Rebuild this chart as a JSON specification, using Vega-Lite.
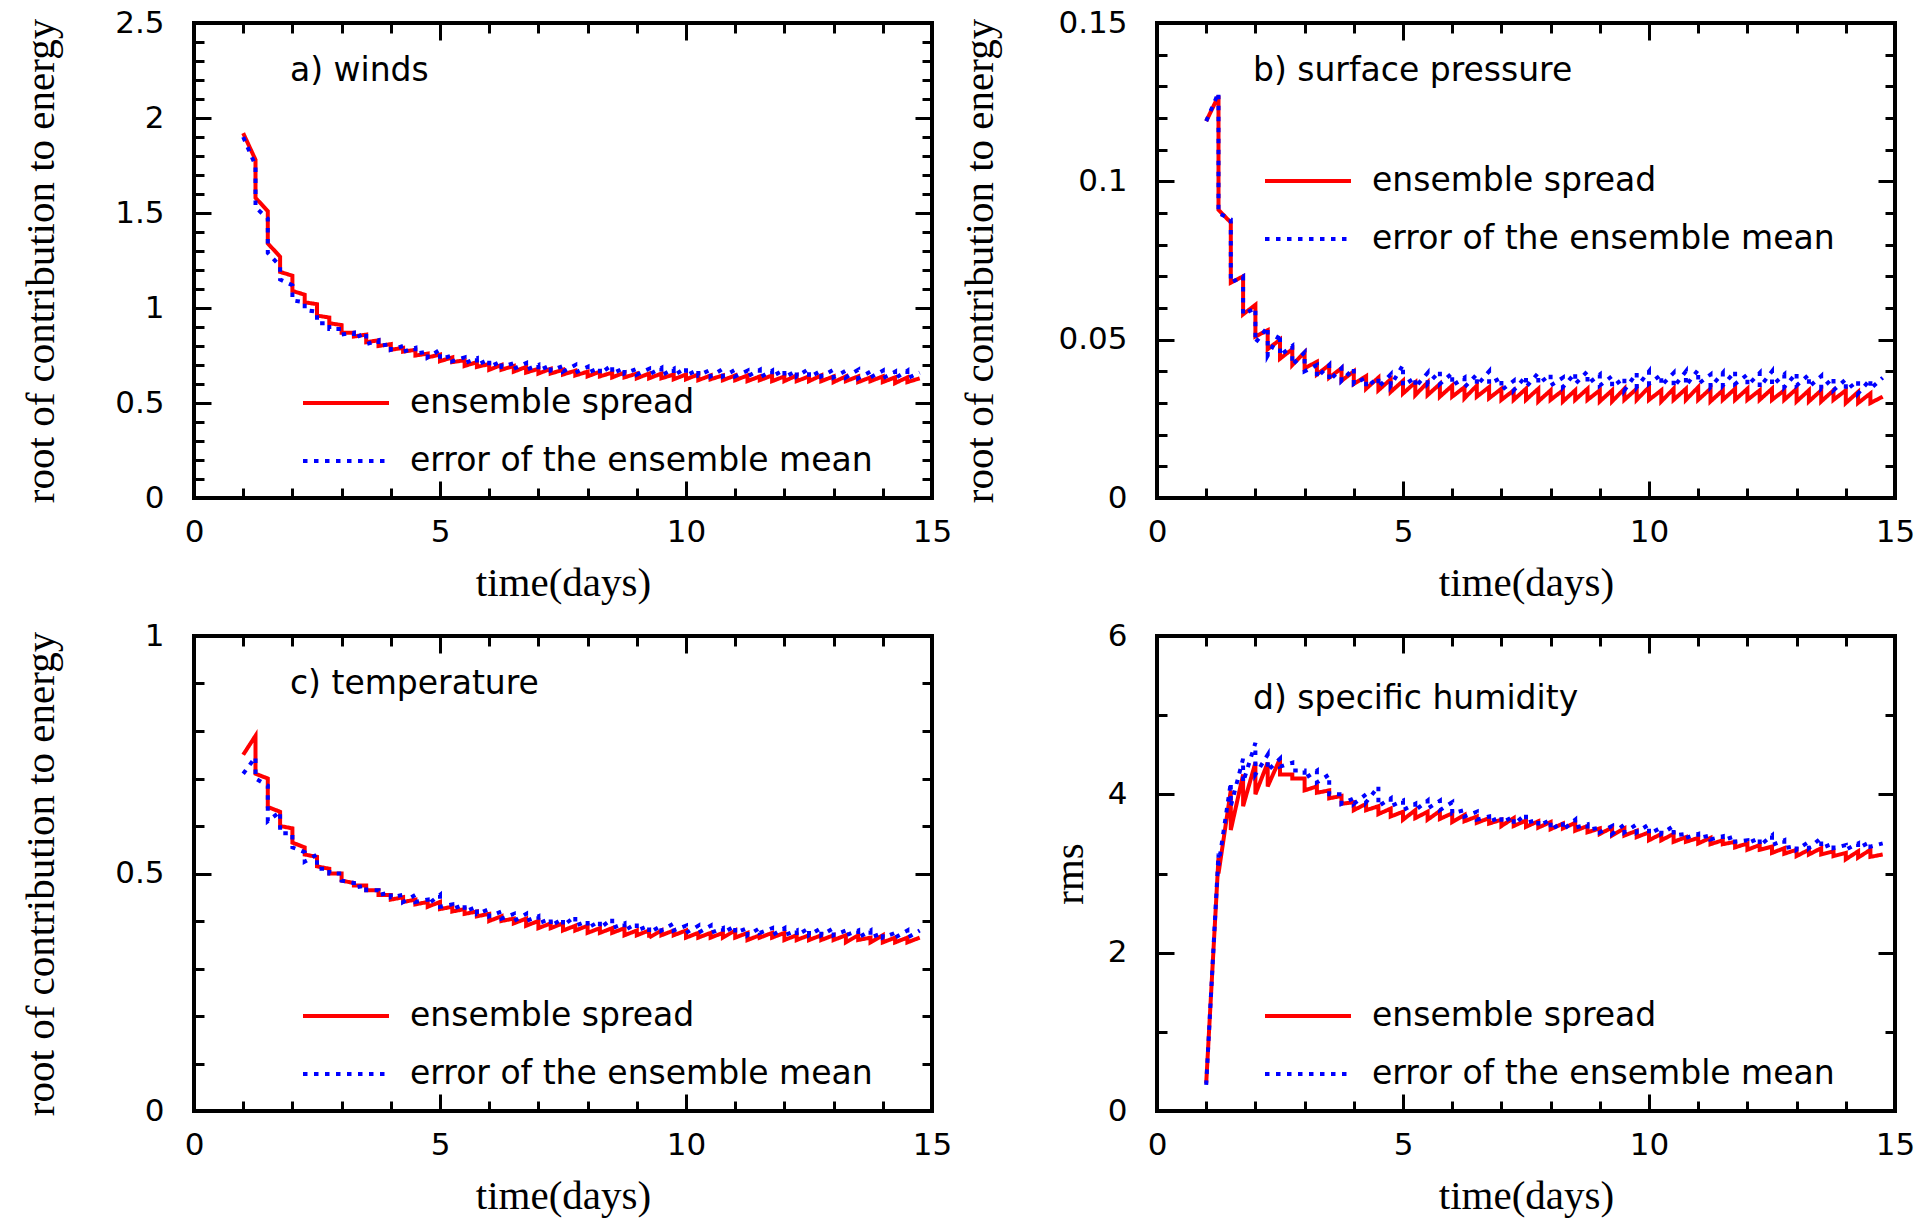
{
"$schema":"https://vega.github.io/schema/vega-lite/v6.json",
"background":"white",
"padding":{"left":18,"top":5,"right":5,"bottom":5},
"config":{
 "view":{"stroke":"black","strokeWidth":4},
 "axis":{"domain":false,"grid":false,"tickColor":"black","tickWidth":3,"labelColor":"black","labelFont":"DejaVu Sans","labelFontSize":31,"titleColor":"black","titleFont":"Liberation Serif","titleFontSize":41,"titleFontWeight":"normal","labelOverlap":false,"labelFlush":false}
},
"datasets":{
"a":[
{"t":1,"re":1.92,"rs":1.92,"be":1.90,"bs":1.90},
{"t":1.25,"re":1.78,"rs":1.58,"be":1.75,"bs":1.53},
{"t":1.5,"re":1.51,"rs":1.34,"be":1.47,"bs":1.29},
{"t":1.75,"re":1.27,"rs":1.19,"be":1.22,"bs":1.15},
{"t":2,"re":1.17,"rs":1.09,"be":1.12,"bs":1.04},
{"t":2.25,"re":1.07,"rs":1.03,"be":1.03,"bs":0.99},
{"t":2.5,"re":1.02,"rs":0.96,"be":0.98,"bs":0.92},
{"t":2.75,"re":0.95,"rs":0.92,"be":0.92,"bs":0.89},
{"t":3,"re":0.91,"rs":0.87,"be":0.89,"bs":0.86},
{"t":3.25,"re":0.87,"rs":0.85,"be":0.87,"bs":0.84},
{"t":3.5,"re":0.86,"rs":0.82,"be":0.87,"bs":0.81},
{"t":3.75,"re":0.83,"rs":0.80,"be":0.83,"bs":0.80},
{"t":4,"re":0.81,"rs":0.78,"be":0.81,"bs":0.78},
{"t":4.25,"re":0.79,"rs":0.77,"be":0.80,"bs":0.77},
{"t":4.5,"re":0.78,"rs":0.75,"be":0.79,"bs":0.76},
{"t":4.75,"re":0.76,"rs":0.74,"be":0.77,"bs":0.74},
{"t":5,"re":0.755,"rs":0.72,"be":0.78,"bs":0.73},
{"t":5.25,"re":0.74,"rs":0.715,"be":0.75,"bs":0.72},
{"t":5.5,"re":0.725,"rs":0.695,"be":0.74,"bs":0.71},
{"t":5.75,"re":0.715,"rs":0.69,"be":0.735,"bs":0.70},
{"t":6,"re":0.705,"rs":0.675,"be":0.73,"bs":0.69},
{"t":6.25,"re":0.70,"rs":0.675,"be":0.72,"bs":0.69},
{"t":6.5,"re":0.695,"rs":0.665,"be":0.71,"bs":0.68},
{"t":6.75,"re":0.69,"rs":0.66,"be":0.71,"bs":0.675},
{"t":7,"re":0.68,"rs":0.655,"be":0.70,"bs":0.67},
{"t":7.25,"re":0.68,"rs":0.655,"be":0.70,"bs":0.67},
{"t":7.5,"re":0.675,"rs":0.65,"be":0.695,"bs":0.665},
{"t":7.75,"re":0.67,"rs":0.645,"be":0.70,"bs":0.66},
{"t":8,"re":0.665,"rs":0.64,"be":0.69,"bs":0.66},
{"t":8.25,"re":0.665,"rs":0.64,"be":0.685,"bs":0.655},
{"t":8.5,"re":0.66,"rs":0.635,"be":0.70,"bs":0.655},
{"t":8.75,"re":0.66,"rs":0.635,"be":0.685,"bs":0.655},
{"t":9,"re":0.655,"rs":0.63,"be":0.68,"bs":0.65},
{"t":9.25,"re":0.655,"rs":0.63,"be":0.68,"bs":0.65},
{"t":9.5,"re":0.655,"rs":0.63,"be":0.685,"bs":0.645},
{"t":9.75,"re":0.65,"rs":0.625,"be":0.68,"bs":0.645},
{"t":10,"re":0.65,"rs":0.625,"be":0.685,"bs":0.645},
{"t":10.25,"re":0.65,"rs":0.62,"be":0.675,"bs":0.645},
{"t":10.5,"re":0.645,"rs":0.625,"be":0.675,"bs":0.64},
{"t":10.75,"re":0.645,"rs":0.62,"be":0.68,"bs":0.64},
{"t":11,"re":0.645,"rs":0.62,"be":0.675,"bs":0.64},
{"t":11.25,"re":0.645,"rs":0.615,"be":0.67,"bs":0.64},
{"t":11.5,"re":0.64,"rs":0.62,"be":0.675,"bs":0.635},
{"t":11.75,"re":0.645,"rs":0.615,"be":0.67,"bs":0.64},
{"t":12,"re":0.64,"rs":0.615,"be":0.675,"bs":0.635},
{"t":12.25,"re":0.645,"rs":0.615,"be":0.67,"bs":0.64},
{"t":12.5,"re":0.64,"rs":0.615,"be":0.68,"bs":0.635},
{"t":12.75,"re":0.645,"rs":0.615,"be":0.67,"bs":0.64},
{"t":13,"re":0.64,"rs":0.61,"be":0.675,"bs":0.635},
{"t":13.25,"re":0.64,"rs":0.615,"be":0.67,"bs":0.635},
{"t":13.5,"re":0.64,"rs":0.61,"be":0.675,"bs":0.63},
{"t":13.75,"re":0.635,"rs":0.615,"be":0.665,"bs":0.635},
{"t":14,"re":0.64,"rs":0.61,"be":0.67,"bs":0.63},
{"t":14.25,"re":0.635,"rs":0.605,"be":0.665,"bs":0.63},
{"t":14.5,"re":0.635,"rs":0.61,"be":0.67,"bs":0.63},
{"t":14.75,"re":0.63,"rs":0.63,"be":0.66,"bs":0.66}
],
"b":[
{"t":1,"re":0.119,"rs":0.119,"be":0.119,"bs":0.119},
{"t":1.25,"re":0.127,"rs":0.091,"be":0.128,"bs":0.090},
{"t":1.5,"re":0.087,"rs":0.068,"be":0.088,"bs":0.068},
{"t":1.75,"re":0.070,"rs":0.058,"be":0.070,"bs":0.058},
{"t":2,"re":0.061,"rs":0.051,"be":0.060,"bs":0.049},
{"t":2.25,"re":0.053,"rs":0.047,"be":0.054,"bs":0.045},
{"t":2.5,"re":0.050,"rs":0.044,"be":0.052,"bs":0.045},
{"t":2.75,"re":0.047,"rs":0.042,"be":0.048,"bs":0.042},
{"t":3,"re":0.046,"rs":0.041,"be":0.046,"bs":0.040},
{"t":3.25,"re":0.043,"rs":0.039,"be":0.042,"bs":0.038},
{"t":3.5,"re":0.042,"rs":0.038,"be":0.042,"bs":0.037},
{"t":3.75,"re":0.041,"rs":0.037,"be":0.041,"bs":0.037},
{"t":4,"re":0.040,"rs":0.036,"be":0.041,"bs":0.036},
{"t":4.25,"re":0.0385,"rs":0.0345,"be":0.038,"bs":0.035},
{"t":4.5,"re":0.038,"rs":0.034,"be":0.038,"bs":0.035},
{"t":4.75,"re":0.0375,"rs":0.0335,"be":0.039,"bs":0.0355},
{"t":5,"re":0.037,"rs":0.033,"be":0.042,"bs":0.0355},
{"t":5.25,"re":0.0365,"rs":0.0325,"be":0.038,"bs":0.035},
{"t":5.5,"re":0.0365,"rs":0.0325,"be":0.0395,"bs":0.036},
{"t":5.75,"re":0.036,"rs":0.032,"be":0.040,"bs":0.036},
{"t":6,"re":0.0355,"rs":0.032,"be":0.0395,"bs":0.0355},
{"t":6.25,"re":0.035,"rs":0.0315,"be":0.038,"bs":0.035},
{"t":6.5,"re":0.0355,"rs":0.032,"be":0.039,"bs":0.0355},
{"t":6.75,"re":0.035,"rs":0.0315,"be":0.040,"bs":0.036},
{"t":7,"re":0.0345,"rs":0.031,"be":0.038,"bs":0.034},
{"t":7.25,"re":0.034,"rs":0.031,"be":0.037,"bs":0.034},
{"t":7.5,"re":0.0345,"rs":0.031,"be":0.0385,"bs":0.035},
{"t":7.75,"re":0.0345,"rs":0.0305,"be":0.0395,"bs":0.036},
{"t":8,"re":0.034,"rs":0.031,"be":0.039,"bs":0.0355},
{"t":8.25,"re":0.034,"rs":0.0305,"be":0.038,"bs":0.035},
{"t":8.5,"re":0.034,"rs":0.031,"be":0.0395,"bs":0.036},
{"t":8.75,"re":0.0345,"rs":0.031,"be":0.040,"bs":0.036},
{"t":9,"re":0.034,"rs":0.0305,"be":0.039,"bs":0.0355},
{"t":9.25,"re":0.034,"rs":0.0305,"be":0.0385,"bs":0.035},
{"t":9.5,"re":0.0345,"rs":0.031,"be":0.038,"bs":0.034},
{"t":9.75,"re":0.0345,"rs":0.031,"be":0.0395,"bs":0.035},
{"t":10,"re":0.035,"rs":0.031,"be":0.040,"bs":0.036},
{"t":10.25,"re":0.034,"rs":0.0305,"be":0.039,"bs":0.0355},
{"t":10.5,"re":0.0345,"rs":0.031,"be":0.0395,"bs":0.035},
{"t":10.75,"re":0.0345,"rs":0.031,"be":0.040,"bs":0.0355},
{"t":11,"re":0.035,"rs":0.031,"be":0.0405,"bs":0.036},
{"t":11.25,"re":0.0345,"rs":0.0305,"be":0.039,"bs":0.035},
{"t":11.5,"re":0.034,"rs":0.031,"be":0.0395,"bs":0.0355},
{"t":11.75,"re":0.0345,"rs":0.031,"be":0.040,"bs":0.036},
{"t":12,"re":0.0345,"rs":0.031,"be":0.039,"bs":0.0355},
{"t":12.25,"re":0.034,"rs":0.031,"be":0.0395,"bs":0.035},
{"t":12.5,"re":0.0345,"rs":0.031,"be":0.040,"bs":0.0355},
{"t":12.75,"re":0.034,"rs":0.031,"be":0.039,"bs":0.035},
{"t":13,"re":0.0345,"rs":0.0305,"be":0.0395,"bs":0.0355},
{"t":13.25,"re":0.034,"rs":0.0305,"be":0.039,"bs":0.035},
{"t":13.5,"re":0.034,"rs":0.0305,"be":0.0385,"bs":0.0345},
{"t":13.75,"re":0.034,"rs":0.031,"be":0.038,"bs":0.034},
{"t":14,"re":0.034,"rs":0.030,"be":0.0375,"bs":0.034},
{"t":14.25,"re":0.0335,"rs":0.030,"be":0.037,"bs":0.033},
{"t":14.5,"re":0.033,"rs":0.030,"be":0.0375,"bs":0.0345},
{"t":14.75,"re":0.032,"rs":0.032,"be":0.038,"bs":0.038}
],
"c":[
{"t":1,"re":0.75,"rs":0.75,"be":0.71,"bs":0.71},
{"t":1.25,"re":0.79,"rs":0.71,"be":0.745,"bs":0.70},
{"t":1.5,"re":0.70,"rs":0.64,"be":0.685,"bs":0.61},
{"t":1.75,"re":0.63,"rs":0.60,"be":0.63,"bs":0.585},
{"t":2,"re":0.595,"rs":0.565,"be":0.585,"bs":0.555},
{"t":2.25,"re":0.555,"rs":0.54,"be":0.545,"bs":0.525},
{"t":2.5,"re":0.535,"rs":0.515,"be":0.54,"bs":0.51},
{"t":2.75,"re":0.51,"rs":0.50,"be":0.51,"bs":0.50},
{"t":3,"re":0.50,"rs":0.485,"be":0.50,"bs":0.485},
{"t":3.25,"re":0.48,"rs":0.475,"be":0.48,"bs":0.47},
{"t":3.5,"re":0.475,"rs":0.465,"be":0.475,"bs":0.465},
{"t":3.75,"re":0.465,"rs":0.455,"be":0.465,"bs":0.455},
{"t":4,"re":0.455,"rs":0.445,"be":0.46,"bs":0.45},
{"t":4.25,"re":0.45,"rs":0.44,"be":0.455,"bs":0.44},
{"t":4.5,"re":0.445,"rs":0.435,"be":0.455,"bs":0.44},
{"t":4.75,"re":0.44,"rs":0.43,"be":0.445,"bs":0.435},
{"t":5,"re":0.44,"rs":0.425,"be":0.455,"bs":0.43},
{"t":5.25,"re":0.43,"rs":0.42,"be":0.435,"bs":0.425},
{"t":5.5,"re":0.425,"rs":0.415,"be":0.435,"bs":0.42},
{"t":5.75,"re":0.42,"rs":0.41,"be":0.43,"bs":0.415},
{"t":6,"re":0.415,"rs":0.40,"be":0.425,"bs":0.41},
{"t":6.25,"re":0.41,"rs":0.40,"be":0.42,"bs":0.405},
{"t":6.5,"re":0.405,"rs":0.395,"be":0.415,"bs":0.40},
{"t":6.75,"re":0.405,"rs":0.39,"be":0.415,"bs":0.40},
{"t":7,"re":0.40,"rs":0.385,"be":0.41,"bs":0.395},
{"t":7.25,"re":0.395,"rs":0.385,"be":0.405,"bs":0.39},
{"t":7.5,"re":0.395,"rs":0.38,"be":0.405,"bs":0.39},
{"t":7.75,"re":0.39,"rs":0.38,"be":0.41,"bs":0.39},
{"t":8,"re":0.39,"rs":0.375,"be":0.40,"bs":0.385},
{"t":8.25,"re":0.385,"rs":0.375,"be":0.40,"bs":0.385},
{"t":8.5,"re":0.385,"rs":0.375,"be":0.405,"bs":0.385},
{"t":8.75,"re":0.385,"rs":0.37,"be":0.395,"bs":0.38},
{"t":9,"re":0.38,"rs":0.37,"be":0.395,"bs":0.38},
{"t":9.25,"re":0.38,"rs":0.365,"be":0.39,"bs":0.375},
{"t":9.5,"re":0.38,"rs":0.37,"be":0.39,"bs":0.38},
{"t":9.75,"re":0.38,"rs":0.37,"be":0.395,"bs":0.38},
{"t":10,"re":0.38,"rs":0.365,"be":0.39,"bs":0.375},
{"t":10.25,"re":0.375,"rs":0.365,"be":0.39,"bs":0.375},
{"t":10.5,"re":0.375,"rs":0.365,"be":0.39,"bs":0.375},
{"t":10.75,"re":0.375,"rs":0.365,"be":0.385,"bs":0.375},
{"t":11,"re":0.38,"rs":0.365,"be":0.39,"bs":0.375},
{"t":11.25,"re":0.375,"rs":0.36,"be":0.385,"bs":0.37},
{"t":11.5,"re":0.37,"rs":0.365,"be":0.385,"bs":0.375},
{"t":11.75,"re":0.375,"rs":0.365,"be":0.385,"bs":0.37},
{"t":12,"re":0.375,"rs":0.36,"be":0.385,"bs":0.37},
{"t":12.25,"re":0.37,"rs":0.36,"be":0.38,"bs":0.37},
{"t":12.5,"re":0.37,"rs":0.36,"be":0.385,"bs":0.37},
{"t":12.75,"re":0.37,"rs":0.36,"be":0.385,"bs":0.37},
{"t":13,"re":0.37,"rs":0.36,"be":0.385,"bs":0.37},
{"t":13.25,"re":0.37,"rs":0.355,"be":0.38,"bs":0.37},
{"t":13.5,"re":0.37,"rs":0.36,"be":0.38,"bs":0.365},
{"t":13.75,"re":0.365,"rs":0.355,"be":0.38,"bs":0.365},
{"t":14,"re":0.37,"rs":0.355,"be":0.375,"bs":0.365},
{"t":14.25,"re":0.365,"rs":0.355,"be":0.375,"bs":0.365},
{"t":14.5,"re":0.365,"rs":0.355,"be":0.38,"bs":0.365},
{"t":14.75,"re":0.365,"rs":0.365,"be":0.38,"bs":0.38}
],
"d":[
{"t":1,"re":0.35,"rs":0.35,"be":0.33,"bs":0.33},
{"t":1.25,"re":3.2,"rs":3.0,"be":3.25,"bs":3.1},
{"t":1.5,"re":4.05,"rs":3.55,"be":4.15,"bs":3.85},
{"t":1.75,"re":4.25,"rs":3.85,"be":4.45,"bs":4.15},
{"t":2,"re":4.4,"rs":4.0,"be":4.65,"bs":4.25},
{"t":2.25,"re":4.4,"rs":4.1,"be":4.5,"bs":4.3},
{"t":2.5,"re":4.45,"rs":4.25,"be":4.45,"bs":4.35},
{"t":2.75,"re":4.25,"rs":4.2,"be":4.4,"bs":4.3},
{"t":3,"re":4.2,"rs":4.05,"be":4.3,"bs":4.2},
{"t":3.25,"re":4.1,"rs":4.02,"be":4.3,"bs":4.15},
{"t":3.5,"re":4.05,"rs":3.95,"be":4.25,"bs":4.0},
{"t":3.75,"re":3.98,"rs":3.88,"be":4.0,"bs":3.88},
{"t":4,"re":3.9,"rs":3.8,"be":3.95,"bs":3.88},
{"t":4.25,"re":3.88,"rs":3.8,"be":4.0,"bs":3.9},
{"t":4.5,"re":3.85,"rs":3.75,"be":4.1,"bs":3.85},
{"t":4.75,"re":3.82,"rs":3.72,"be":3.95,"bs":3.85},
{"t":5,"re":3.78,"rs":3.68,"be":3.92,"bs":3.8},
{"t":5.25,"re":3.8,"rs":3.7,"be":3.88,"bs":3.8},
{"t":5.5,"re":3.78,"rs":3.68,"be":3.92,"bs":3.82},
{"t":5.75,"re":3.79,"rs":3.69,"be":3.92,"bs":3.8},
{"t":6,"re":3.76,"rs":3.65,"be":3.9,"bs":3.76},
{"t":6.25,"re":3.74,"rs":3.66,"be":3.8,"bs":3.72},
{"t":6.5,"re":3.72,"rs":3.64,"be":3.78,"bs":3.68},
{"t":6.75,"re":3.7,"rs":3.63,"be":3.72,"bs":3.65},
{"t":7,"re":3.68,"rs":3.6,"be":3.72,"bs":3.64},
{"t":7.25,"re":3.7,"rs":3.6,"be":3.72,"bs":3.62},
{"t":7.5,"re":3.67,"rs":3.59,"be":3.75,"bs":3.64},
{"t":7.75,"re":3.66,"rs":3.58,"be":3.68,"bs":3.6},
{"t":8,"re":3.65,"rs":3.56,"be":3.68,"bs":3.55},
{"t":8.25,"re":3.63,"rs":3.57,"be":3.65,"bs":3.55},
{"t":8.5,"re":3.64,"rs":3.54,"be":3.68,"bs":3.58},
{"t":8.75,"re":3.6,"rs":3.52,"be":3.62,"bs":3.55},
{"t":9,"re":3.57,"rs":3.5,"be":3.58,"bs":3.52},
{"t":9.25,"re":3.58,"rs":3.48,"be":3.6,"bs":3.5},
{"t":9.5,"re":3.57,"rs":3.48,"be":3.62,"bs":3.52},
{"t":9.75,"re":3.54,"rs":3.46,"be":3.62,"bs":3.52},
{"t":10,"re":3.52,"rs":3.42,"be":3.62,"bs":3.5},
{"t":10.25,"re":3.5,"rs":3.42,"be":3.58,"bs":3.5},
{"t":10.5,"re":3.5,"rs":3.4,"be":3.6,"bs":3.48},
{"t":10.75,"re":3.46,"rs":3.4,"be":3.5,"bs":3.45},
{"t":11,"re":3.45,"rs":3.38,"be":3.5,"bs":3.45},
{"t":11.25,"re":3.45,"rs":3.37,"be":3.48,"bs":3.43},
{"t":11.5,"re":3.42,"rs":3.37,"be":3.47,"bs":3.42},
{"t":11.75,"re":3.4,"rs":3.33,"be":3.47,"bs":3.4},
{"t":12,"re":3.38,"rs":3.3,"be":3.42,"bs":3.38},
{"t":12.25,"re":3.36,"rs":3.3,"be":3.45,"bs":3.35},
{"t":12.5,"re":3.34,"rs":3.26,"be":3.48,"bs":3.36},
{"t":12.75,"re":3.32,"rs":3.25,"be":3.42,"bs":3.32},
{"t":13,"re":3.3,"rs":3.22,"be":3.35,"bs":3.3},
{"t":13.25,"re":3.3,"rs":3.24,"be":3.4,"bs":3.32},
{"t":13.5,"re":3.32,"rs":3.24,"be":3.45,"bs":3.32},
{"t":13.75,"re":3.28,"rs":3.22,"be":3.38,"bs":3.32},
{"t":14,"re":3.26,"rs":3.18,"be":3.36,"bs":3.3},
{"t":14.25,"re":3.28,"rs":3.2,"be":3.38,"bs":3.32},
{"t":14.5,"re":3.3,"rs":3.21,"be":3.4,"bs":3.34},
{"t":14.75,"re":3.24,"rs":3.24,"be":3.38,"bs":3.38}
]
},
"columns":2,
"bounds":"flush",
"spacing":{"column":225,"row":138},
"resolve":{"scale":{"color":"independent","strokeDash":"independent"},"legend":{"color":"independent","strokeDash":"independent"}},
"concat":[
{
 "width":738,"height":475,
 "data":{"name":"a"},
 "layer":[
  {"transform":[{"fold":["re","rs"],"as":["k","v"]}],
   "mark":{"type":"line","strokeWidth":4},
   "encoding":{
    "x":{"field":"t","type":"quantitative","scale":{"domain":[0,15],"nice":false},"axis":{"orient":"bottom","values":[0,1,2,3,4,5,6,7,8,9,10,11,12,13,14,15],"labelExpr":"datum.value % 5 === 0 ? datum.label : ''","tickSize":{"condition":{"test":"datum.value % 5 === 0","value":-17},"value":-10},"labelPadding":36,"title":"time(days)","titlePadding":9}},
    "y":{"field":"v","type":"quantitative","scale":{"domain":[0,2.5],"nice":false},"axis":{"orient":"left","values":[0,0.1,0.2,0.3,0.4,0.5,0.6,0.7,0.8,0.9,1,1.1,1.2,1.3,1.4,1.5,1.6,1.7,1.8,1.9,2,2.1,2.2,2.3,2.4,2.5],"labelExpr":"indexof([0,0.5,1,1.5,2,2.5], datum.value) >= 0 ? format(datum.value, '~g') : ''","tickSize":{"condition":{"test":"indexof([0,0.5,1,1.5,2,2.5], datum.value) >= 0","value":-17},"value":-10},"labelPadding":47,"title":"root of contribution to energy","titlePadding":52}},
    "order":[{"field":"t","type":"quantitative"},{"field":"k","type":"ordinal"}],
    "color":{"datum":"ensemble spread","type":"nominal","scale":{"domain":["ensemble spread","error of the ensemble mean"],"range":["#ff0000","#0000ff"]},"legend":{"orient":"none","legendX":107,"legendY":367,"title":null,"symbolType":"stroke","symbolSize":7396,"symbolStrokeWidth":4,"clipHeight":26,"rowPadding":25,"labelOffset":19,"labelFontSize":33,"labelFont":"DejaVu Sans","labelColor":"black","padding":0,"labelLimit":900}},
    "strokeDash":{"datum":"ensemble spread","type":"nominal","scale":{"domain":["ensemble spread","error of the ensemble mean"],"range":[[1,0],[4.5,6.5]]},"legend":{"orient":"none","legendX":107,"legendY":367,"title":null,"symbolType":"stroke","symbolSize":7396,"symbolStrokeWidth":4,"clipHeight":26,"rowPadding":25,"labelOffset":19,"labelFontSize":33,"labelFont":"DejaVu Sans","labelColor":"black","padding":0,"labelLimit":900}}
   }},
  {"transform":[{"fold":["be","bs"],"as":["k","v"]}],
   "mark":{"type":"line","strokeWidth":4},
   "encoding":{
    "x":{"field":"t","type":"quantitative","axis":{"orient":"top","values":[0,1,2,3,4,5,6,7,8,9,10,11,12,13,14,15],"labels":false,"title":null,"tickSize":{"condition":{"test":"datum.value % 5 === 0","value":-17},"value":-10}}},
    "y":{"field":"v","type":"quantitative","axis":{"orient":"right","values":[0,0.1,0.2,0.3,0.4,0.5,0.6,0.7,0.8,0.9,1,1.1,1.2,1.3,1.4,1.5,1.6,1.7,1.8,1.9,2,2.1,2.2,2.3,2.4,2.5],"labels":false,"title":null,"tickSize":{"condition":{"test":"indexof([0,0.5,1,1.5,2,2.5], datum.value) >= 0","value":-17},"value":-10}}},
    "order":[{"field":"t","type":"quantitative"},{"field":"k","type":"ordinal"}],
    "color":{"datum":"error of the ensemble mean","type":"nominal","legend":{"orient":"none","legendX":107,"legendY":367,"title":null,"symbolType":"stroke","symbolSize":7396,"symbolStrokeWidth":4,"clipHeight":26,"rowPadding":25,"labelOffset":19,"labelFontSize":33,"labelFont":"DejaVu Sans","labelColor":"black","padding":0,"labelLimit":900}},
    "strokeDash":{"datum":"error of the ensemble mean","type":"nominal","legend":{"orient":"none","legendX":107,"legendY":367,"title":null,"symbolType":"stroke","symbolSize":7396,"symbolStrokeWidth":4,"clipHeight":26,"rowPadding":25,"labelOffset":19,"labelFontSize":33,"labelFont":"DejaVu Sans","labelColor":"black","padding":0,"labelLimit":900}}
   }},
  {"data":{"values":[{"t":1.95,"v":2.25,"label":"a) winds"}]},
   "mark":{"type":"text","align":"left","baseline":"middle","fontSize":33,"font":"DejaVu Sans","color":"black"},
   "encoding":{"x":{"field":"t","type":"quantitative","axis":null},"y":{"field":"v","type":"quantitative","axis":null},"text":{"field":"label"}}}
 ],
 "resolve":{"axis":{"x":"independent","y":"independent"}}
},
{
 "width":738,"height":475,
 "data":{"name":"b"},
 "layer":[
  {"transform":[{"fold":["re","rs"],"as":["k","v"]}],
   "mark":{"type":"line","strokeWidth":4},
   "encoding":{
    "x":{"field":"t","type":"quantitative","scale":{"domain":[0,15],"nice":false},"axis":{"orient":"bottom","values":[0,1,2,3,4,5,6,7,8,9,10,11,12,13,14,15],"labelExpr":"datum.value % 5 === 0 ? datum.label : ''","tickSize":{"condition":{"test":"datum.value % 5 === 0","value":-17},"value":-10},"labelPadding":36,"title":"time(days)","titlePadding":9}},
    "y":{"field":"v","type":"quantitative","scale":{"domain":[0,0.15],"nice":false},"axis":{"orient":"left","values":[0,0.01,0.02,0.03,0.04,0.05,0.06,0.07,0.08,0.09,0.1,0.11,0.12,0.13,0.14,0.15],"labelExpr":"indexof([0,0.05,0.1,0.15], datum.value) >= 0 ? format(datum.value, '~g') : ''","tickSize":{"condition":{"test":"indexof([0,0.05,0.1,0.15], datum.value) >= 0","value":-17},"value":-10},"labelPadding":47,"title":"root of contribution to energy","titlePadding":56}},
    "order":[{"field":"t","type":"quantitative"},{"field":"k","type":"ordinal"}],
    "color":{"datum":"ensemble spread","type":"nominal","scale":{"domain":["ensemble spread","error of the ensemble mean"],"range":["#ff0000","#0000ff"]},"legend":{"orient":"none","legendX":106,"legendY":145,"title":null,"symbolType":"stroke","symbolSize":7396,"symbolStrokeWidth":4,"clipHeight":26,"rowPadding":25,"labelOffset":19,"labelFontSize":33,"labelFont":"DejaVu Sans","labelColor":"black","padding":0,"labelLimit":900}},
    "strokeDash":{"datum":"ensemble spread","type":"nominal","scale":{"domain":["ensemble spread","error of the ensemble mean"],"range":[[1,0],[4.5,6.5]]},"legend":{"orient":"none","legendX":106,"legendY":145,"title":null,"symbolType":"stroke","symbolSize":7396,"symbolStrokeWidth":4,"clipHeight":26,"rowPadding":25,"labelOffset":19,"labelFontSize":33,"labelFont":"DejaVu Sans","labelColor":"black","padding":0,"labelLimit":900}}
   }},
  {"transform":[{"fold":["be","bs"],"as":["k","v"]}],
   "mark":{"type":"line","strokeWidth":4},
   "encoding":{
    "x":{"field":"t","type":"quantitative","axis":{"orient":"top","values":[0,1,2,3,4,5,6,7,8,9,10,11,12,13,14,15],"labels":false,"title":null,"tickSize":{"condition":{"test":"datum.value % 5 === 0","value":-17},"value":-10}}},
    "y":{"field":"v","type":"quantitative","axis":{"orient":"right","values":[0,0.01,0.02,0.03,0.04,0.05,0.06,0.07,0.08,0.09,0.1,0.11,0.12,0.13,0.14,0.15],"labels":false,"title":null,"tickSize":{"condition":{"test":"indexof([0,0.05,0.1,0.15], datum.value) >= 0","value":-17},"value":-10}}},
    "order":[{"field":"t","type":"quantitative"},{"field":"k","type":"ordinal"}],
    "color":{"datum":"error of the ensemble mean","type":"nominal","legend":{"orient":"none","legendX":106,"legendY":145,"title":null,"symbolType":"stroke","symbolSize":7396,"symbolStrokeWidth":4,"clipHeight":26,"rowPadding":25,"labelOffset":19,"labelFontSize":33,"labelFont":"DejaVu Sans","labelColor":"black","padding":0,"labelLimit":900}},
    "strokeDash":{"datum":"error of the ensemble mean","type":"nominal","legend":{"orient":"none","legendX":106,"legendY":145,"title":null,"symbolType":"stroke","symbolSize":7396,"symbolStrokeWidth":4,"clipHeight":26,"rowPadding":25,"labelOffset":19,"labelFontSize":33,"labelFont":"DejaVu Sans","labelColor":"black","padding":0,"labelLimit":900}}
   }},
  {"data":{"values":[{"t":1.95,"v":0.135,"label":"b) surface pressure"}]},
   "mark":{"type":"text","align":"left","baseline":"middle","fontSize":33,"font":"DejaVu Sans","color":"black"},
   "encoding":{"x":{"field":"t","type":"quantitative","axis":null},"y":{"field":"v","type":"quantitative","axis":null},"text":{"field":"label"}}}
 ],
 "resolve":{"axis":{"x":"independent","y":"independent"}}
},
{
 "width":738,"height":475,
 "data":{"name":"c"},
 "layer":[
  {"transform":[{"fold":["re","rs"],"as":["k","v"]}],
   "mark":{"type":"line","strokeWidth":4},
   "encoding":{
    "x":{"field":"t","type":"quantitative","scale":{"domain":[0,15],"nice":false},"axis":{"orient":"bottom","values":[0,1,2,3,4,5,6,7,8,9,10,11,12,13,14,15],"labelExpr":"datum.value % 5 === 0 ? datum.label : ''","tickSize":{"condition":{"test":"datum.value % 5 === 0","value":-17},"value":-10},"labelPadding":36,"title":"time(days)","titlePadding":9}},
    "y":{"field":"v","type":"quantitative","scale":{"domain":[0,1],"nice":false},"axis":{"orient":"left","values":[0,0.1,0.2,0.3,0.4,0.5,0.6,0.7,0.8,0.9,1],"labelExpr":"indexof([0,0.5,1], datum.value) >= 0 ? format(datum.value, '~g') : ''","tickSize":{"condition":{"test":"indexof([0,0.5,1], datum.value) >= 0","value":-17},"value":-10},"labelPadding":47,"title":"root of contribution to energy","titlePadding":52}},
    "order":[{"field":"t","type":"quantitative"},{"field":"k","type":"ordinal"}],
    "color":{"datum":"ensemble spread","type":"nominal","scale":{"domain":["ensemble spread","error of the ensemble mean"],"range":["#ff0000","#0000ff"]},"legend":{"orient":"none","legendX":107,"legendY":367,"title":null,"symbolType":"stroke","symbolSize":7396,"symbolStrokeWidth":4,"clipHeight":26,"rowPadding":25,"labelOffset":19,"labelFontSize":33,"labelFont":"DejaVu Sans","labelColor":"black","padding":0,"labelLimit":900}},
    "strokeDash":{"datum":"ensemble spread","type":"nominal","scale":{"domain":["ensemble spread","error of the ensemble mean"],"range":[[1,0],[4.5,6.5]]},"legend":{"orient":"none","legendX":107,"legendY":367,"title":null,"symbolType":"stroke","symbolSize":7396,"symbolStrokeWidth":4,"clipHeight":26,"rowPadding":25,"labelOffset":19,"labelFontSize":33,"labelFont":"DejaVu Sans","labelColor":"black","padding":0,"labelLimit":900}}
   }},
  {"transform":[{"fold":["be","bs"],"as":["k","v"]}],
   "mark":{"type":"line","strokeWidth":4},
   "encoding":{
    "x":{"field":"t","type":"quantitative","axis":{"orient":"top","values":[0,1,2,3,4,5,6,7,8,9,10,11,12,13,14,15],"labels":false,"title":null,"tickSize":{"condition":{"test":"datum.value % 5 === 0","value":-17},"value":-10}}},
    "y":{"field":"v","type":"quantitative","axis":{"orient":"right","values":[0,0.1,0.2,0.3,0.4,0.5,0.6,0.7,0.8,0.9,1],"labels":false,"title":null,"tickSize":{"condition":{"test":"indexof([0,0.5,1], datum.value) >= 0","value":-17},"value":-10}}},
    "order":[{"field":"t","type":"quantitative"},{"field":"k","type":"ordinal"}],
    "color":{"datum":"error of the ensemble mean","type":"nominal","legend":{"orient":"none","legendX":107,"legendY":367,"title":null,"symbolType":"stroke","symbolSize":7396,"symbolStrokeWidth":4,"clipHeight":26,"rowPadding":25,"labelOffset":19,"labelFontSize":33,"labelFont":"DejaVu Sans","labelColor":"black","padding":0,"labelLimit":900}},
    "strokeDash":{"datum":"error of the ensemble mean","type":"nominal","legend":{"orient":"none","legendX":107,"legendY":367,"title":null,"symbolType":"stroke","symbolSize":7396,"symbolStrokeWidth":4,"clipHeight":26,"rowPadding":25,"labelOffset":19,"labelFontSize":33,"labelFont":"DejaVu Sans","labelColor":"black","padding":0,"labelLimit":900}}
   }},
  {"data":{"values":[{"t":1.95,"v":0.9,"label":"c) temperature"}]},
   "mark":{"type":"text","align":"left","baseline":"middle","fontSize":33,"font":"DejaVu Sans","color":"black"},
   "encoding":{"x":{"field":"t","type":"quantitative","axis":null},"y":{"field":"v","type":"quantitative","axis":null},"text":{"field":"label"}}}
 ],
 "resolve":{"axis":{"x":"independent","y":"independent"}}
},
{
 "width":738,"height":475,
 "data":{"name":"d"},
 "layer":[
  {"transform":[{"fold":["re","rs"],"as":["k","v"]}],
   "mark":{"type":"line","strokeWidth":4},
   "encoding":{
    "x":{"field":"t","type":"quantitative","scale":{"domain":[0,15],"nice":false},"axis":{"orient":"bottom","values":[0,1,2,3,4,5,6,7,8,9,10,11,12,13,14,15],"labelExpr":"datum.value % 5 === 0 ? datum.label : ''","tickSize":{"condition":{"test":"datum.value % 5 === 0","value":-17},"value":-10},"labelPadding":36,"title":"time(days)","titlePadding":9}},
    "y":{"field":"v","type":"quantitative","scale":{"domain":[0,6],"nice":false},"axis":{"orient":"left","values":[0,1,2,3,4,5,6],"labelExpr":"datum.value % 2 === 0 ? format(datum.value, '~g') : ''","tickSize":{"condition":{"test":"datum.value % 2 === 0","value":-17},"value":-10},"labelPadding":47,"title":"rms","titlePadding":16}},
    "order":[{"field":"t","type":"quantitative"},{"field":"k","type":"ordinal"}],
    "color":{"datum":"ensemble spread","type":"nominal","scale":{"domain":["ensemble spread","error of the ensemble mean"],"range":["#ff0000","#0000ff"]},"legend":{"orient":"none","legendX":106,"legendY":367,"title":null,"symbolType":"stroke","symbolSize":7396,"symbolStrokeWidth":4,"clipHeight":26,"rowPadding":25,"labelOffset":19,"labelFontSize":33,"labelFont":"DejaVu Sans","labelColor":"black","padding":0,"labelLimit":900}},
    "strokeDash":{"datum":"ensemble spread","type":"nominal","scale":{"domain":["ensemble spread","error of the ensemble mean"],"range":[[1,0],[4.5,6.5]]},"legend":{"orient":"none","legendX":106,"legendY":367,"title":null,"symbolType":"stroke","symbolSize":7396,"symbolStrokeWidth":4,"clipHeight":26,"rowPadding":25,"labelOffset":19,"labelFontSize":33,"labelFont":"DejaVu Sans","labelColor":"black","padding":0,"labelLimit":900}}
   }},
  {"transform":[{"fold":["be","bs"],"as":["k","v"]}],
   "mark":{"type":"line","strokeWidth":4},
   "encoding":{
    "x":{"field":"t","type":"quantitative","axis":{"orient":"top","values":[0,1,2,3,4,5,6,7,8,9,10,11,12,13,14,15],"labels":false,"title":null,"tickSize":{"condition":{"test":"datum.value % 5 === 0","value":-17},"value":-10}}},
    "y":{"field":"v","type":"quantitative","axis":{"orient":"right","values":[0,1,2,3,4,5,6],"labels":false,"title":null,"tickSize":{"condition":{"test":"datum.value % 2 === 0","value":-17},"value":-10}}},
    "order":[{"field":"t","type":"quantitative"},{"field":"k","type":"ordinal"}],
    "color":{"datum":"error of the ensemble mean","type":"nominal","legend":{"orient":"none","legendX":106,"legendY":367,"title":null,"symbolType":"stroke","symbolSize":7396,"symbolStrokeWidth":4,"clipHeight":26,"rowPadding":25,"labelOffset":19,"labelFontSize":33,"labelFont":"DejaVu Sans","labelColor":"black","padding":0,"labelLimit":900}},
    "strokeDash":{"datum":"error of the ensemble mean","type":"nominal","legend":{"orient":"none","legendX":106,"legendY":367,"title":null,"symbolType":"stroke","symbolSize":7396,"symbolStrokeWidth":4,"clipHeight":26,"rowPadding":25,"labelOffset":19,"labelFontSize":33,"labelFont":"DejaVu Sans","labelColor":"black","padding":0,"labelLimit":900}}
   }},
  {"data":{"values":[{"t":1.95,"v":5.2,"label":"d) specific humidity"}]},
   "mark":{"type":"text","align":"left","baseline":"middle","fontSize":33,"font":"DejaVu Sans","color":"black"},
   "encoding":{"x":{"field":"t","type":"quantitative","axis":null},"y":{"field":"v","type":"quantitative","axis":null},"text":{"field":"label"}}}
 ],
 "resolve":{"axis":{"x":"independent","y":"independent"}}
}
]
}
